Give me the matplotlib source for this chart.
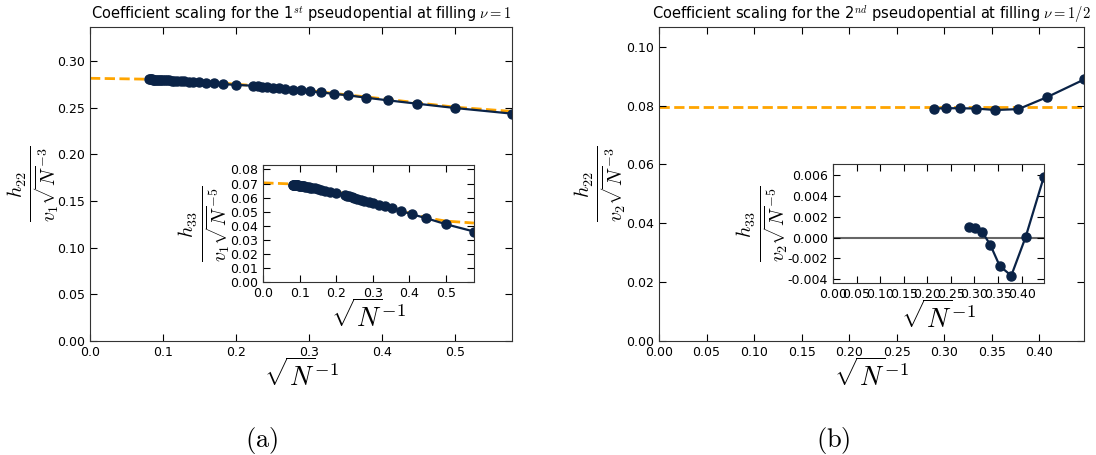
import numpy as np
import matplotlib
matplotlib.use('Agg')
import matplotlib.pyplot as plt
from matplotlib.ticker import MultipleLocator

plt.rcParams['mathtext.fontset'] = 'cm'
plt.rcParams['font.family'] = ['DejaVu Sans']

# system sizes N, x axis is 1/sqrt(N)
N_a = [3, 4, 5, 6, 7, 8, 9, 10, 11, 12, 13, 14, 15, 16, 17, 18, 19, 20,
       25, 30, 35, 40, 45, 50, 55, 60, 65, 70, 75, 80, 85, 90, 95, 100,
       105, 110, 115, 120, 125, 130, 135, 140, 145, 150, 155]
h22_a = [0.2437, 0.2497, 0.2544, 0.2579, 0.2608, 0.2633, 0.2650, 0.2664, 0.2676, 0.2686,
         0.2694, 0.2702, 0.2709, 0.2715, 0.2721, 0.2726, 0.2731, 0.2736,
         0.2745, 0.2754, 0.2761, 0.2767, 0.2772, 0.2776, 0.2779, 0.2782, 0.2785, 0.2787,
         0.2789, 0.2791, 0.2793, 0.2794, 0.2796, 0.2797, 0.2798, 0.2799, 0.2800, 0.2801,
         0.2801, 0.2802, 0.2802, 0.2803, 0.2803, 0.2804, 0.2804]
h33_a = [0.0360, 0.0412, 0.0454, 0.0482, 0.0505, 0.0524, 0.0538, 0.0550, 0.0561, 0.0570,
         0.0578, 0.0586, 0.0593, 0.0599, 0.0605, 0.0610, 0.0614, 0.0618,
         0.0634, 0.0643, 0.0650, 0.0656, 0.0661, 0.0665, 0.0668, 0.0671, 0.0674, 0.0676,
         0.0678, 0.0680, 0.0682, 0.0683, 0.0684, 0.0685, 0.0686, 0.0687, 0.0688, 0.0689,
         0.0690, 0.0690, 0.0691, 0.0691, 0.0692, 0.0692, 0.0693]

# fitted curves (orange dashed)
fit_x_a = [0.0, 0.08, 0.15, 0.2, 0.25, 0.3, 0.35, 0.4, 0.45, 0.5, 0.5774]
fit22_a = [0.2816, 0.2806, 0.2785, 0.2752, 0.2722, 0.2684, 0.2640, 0.2597, 0.2551, 0.2506, 0.2461]
fit33_a = [0.0705, 0.0697, 0.0672, 0.0642, 0.0612, 0.0575, 0.0532, 0.0490, 0.0456, 0.0434, 0.0420]

N_b = [5, 6, 7, 8, 9, 10, 11, 12]
h22_b = [0.0889, 0.0829, 0.0788, 0.0785, 0.0790, 0.0791, 0.0791, 0.0790]
h33_b = [0.00589, 0.00003, -0.00367, -0.00274, -0.00068, 0.00055, 0.00090, 0.00100]
fit_x_b = [0.0, 0.4472]
fit22_b = [0.0795, 0.0795]

navy = '#0a2347'
fit_col = 'orange'


def style(ax, fs):
    ax.tick_params(direction='in', top=True, right=True, labelsize=fs, length=5)
    for s in ax.spines.values():
        s.set_color('#333333')


def draw(ax, x, y, fx, fy):
    ax.plot(fx, fy, color=fit_col, linestyle='--', linewidth=2, zorder=1)
    ax.plot(x, y, color=navy, marker='o', markersize=6.5, linewidth=1.6, zorder=2)


fig = plt.figure(figsize=(10.96, 4.55), dpi=100)

x_a = np.array(N_a) ** -0.5
x_b = np.array(N_b) ** -0.5

# (a) main
ax1 = fig.add_axes([0.0821, 0.2505, 0.3850, 0.6900])
draw(ax1, x_a, h22_a, fit_x_a, fit22_a)
ax1.set_xlim(0, x_a.max())
ax1.set_ylim(0, 1.2 * max(h22_a))
ax1.xaxis.set_major_locator(MultipleLocator(0.1))
ax1.yaxis.set_major_locator(MultipleLocator(0.05))
ax1.xaxis.set_major_formatter(plt.FormatStrFormatter('%.1f'))
ax1.yaxis.set_major_formatter(plt.FormatStrFormatter('%.2f'))
style(ax1, 9)
ax1.set_title(r'Coefficient scaling for the 1$^{st}$ pseudopential at filling $\nu=1$', fontsize=10.5)
ax1.set_xlabel(r'$\sqrt{N}^{-1}$', fontsize=19, labelpad=0)
ax1.set_ylabel(r'$\frac{h_{22}}{v_1\sqrt{N}^{-3}}$', fontsize=20.5, labelpad=-2.5)

# (a) inset
ax1i = fig.add_axes([0.2402, 0.3796, 0.1922, 0.2578])
draw(ax1i, x_a, h33_a, fit_x_a, fit33_a)
ax1i.set_xlim(0, x_a.max())
ax1i.set_ylim(0, 1.2 * max(h33_a))
ax1i.xaxis.set_major_locator(MultipleLocator(0.1))
ax1i.yaxis.set_major_locator(MultipleLocator(0.01))
ax1i.xaxis.set_major_formatter(plt.FormatStrFormatter('%.1f'))
ax1i.yaxis.set_major_formatter(plt.FormatStrFormatter('%.2f'))
style(ax1i, 9)
ax1i.set_xlabel(r'$\sqrt{N}^{-1}$', fontsize=19, labelpad=0)
ax1i.set_ylabel(r'$\frac{h_{33}}{v_1\sqrt{N}^{-5}}$', fontsize=20.5, labelpad=-1.5)

# (b) main
ax2 = fig.add_axes([0.6013, 0.2505, 0.3880, 0.6900])
draw(ax2, x_b, h22_b, fit_x_b, fit22_b)
ax2.set_xlim(0, x_b.max())
ax2.set_ylim(0, 1.2 * max(h22_b))
ax2.xaxis.set_major_locator(MultipleLocator(0.05))
ax2.yaxis.set_major_locator(MultipleLocator(0.02))
ax2.xaxis.set_major_formatter(plt.FormatStrFormatter('%.2f'))
ax2.yaxis.set_major_formatter(plt.FormatStrFormatter('%.2f'))
style(ax2, 9)
ax2.set_title(r'Coefficient scaling for the 2$^{nd}$ pseudopential at filling $\nu=1/2$', fontsize=10.5)
ax2.set_xlabel(r'$\sqrt{N}^{-1}$', fontsize=19, labelpad=0)
ax2.set_ylabel(r'$\frac{h_{22}}{v_2\sqrt{N}^{-3}}$', fontsize=20.5, labelpad=-1.5)

# (b) inset
ax2i = fig.add_axes([0.7600, 0.3774, 0.1925, 0.2615])
ax2i.axhline(0, color='#666666', linewidth=1.5, zorder=1)
ax2i.plot(x_b, h33_b, color=navy, marker='o', markersize=6.5, linewidth=1.6, zorder=2)
ax2i.set_xlim(0, x_b.max())
ax2i.set_ylim(1.2 * min(h33_b), 1.2 * max(h33_b))
ax2i.xaxis.set_major_locator(MultipleLocator(0.05))
ax2i.yaxis.set_major_locator(MultipleLocator(0.002))
ax2i.xaxis.set_major_formatter(plt.FormatStrFormatter('%.2f'))
ax2i.yaxis.set_major_formatter(plt.FormatStrFormatter('%.3f'))
style(ax2i, 9)
ax2i.set_xlabel(r'$\sqrt{N}^{-1}$', fontsize=19, labelpad=0)
ax2i.set_ylabel(r'$\frac{h_{33}}{v_2\sqrt{N}^{-5}}$', fontsize=20.5, labelpad=-1.5)

fig.text(0.239, 0.018, r'$\mathrm{(a)}$', fontsize=19, ha='center')
fig.text(0.760, 0.018, r'$\mathrm{(b)}$', fontsize=19, ha='center')

fig.savefig('out.png', dpi=100)
